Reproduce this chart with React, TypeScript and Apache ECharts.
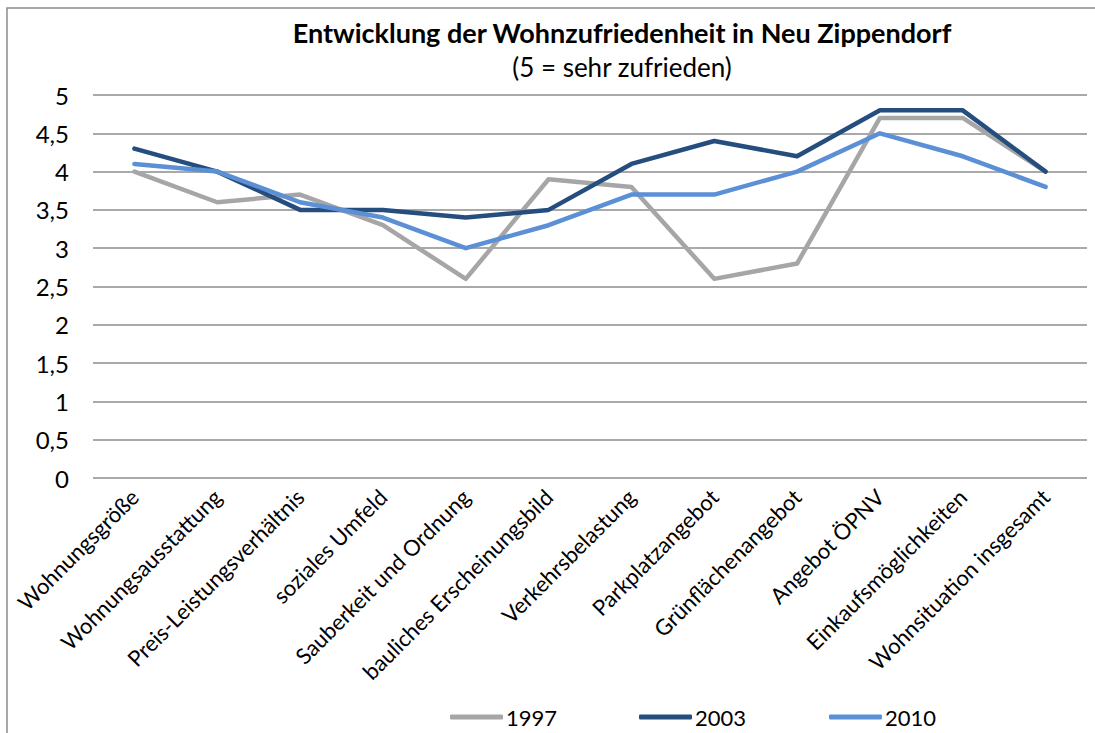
import React, { useEffect, useRef } from "react";
import * as echarts from "echarts";

const categories = [
  "Wohnungsgröße",
  "Wohnungsausstattung",
  "Preis-Leistungsverhältnis",
  "soziales Umfeld",
  "Sauberkeit und Ordnung",
  "bauliches Erscheinungsbild",
  "Verkehrsbelastung",
  "Parkplatzangebot",
  "Grünflächenangebot",
  "Angebot ÖPNV",
  "Einkaufsmöglichkeiten",
  "Wohnsituation insgesamt",
];
const values1997 = [4.0, 3.6, 3.7, 3.3, 2.6, 3.9, 3.8, 2.6, 2.8, 4.7, 4.7, 4.0];
const values2003 = [4.3, 4.0, 3.5, 3.5, 3.4, 3.5, 4.1, 4.4, 4.2, 4.8, 4.8, 4.0];
const values2010 = [4.1, 4.0, 3.6, 3.4, 3.0, 3.3, 3.7, 3.7, 4.0, 4.5, 4.2, 3.8];
const seriesNames = ["1997", "2003", "2010"];
const colors = ["#a6a6a6", "#254e7f", "#5b8fd6"];
const titleText = "Entwicklung der Wohnzufriedenheit in Neu Zippendorf";
const subtitleText = "(5 = sehr zufrieden)";

const FONT = "Lato, 'Open Sans', sans-serif";

export default function App() {
  const ref = useRef<HTMLDivElement>(null);
  useEffect(() => {
    if (!ref.current) return;
    const chart = echarts.init(ref.current, null, { renderer: "svg" });
    const data = [values1997, values2003, values2010];
    const legendLefts = [450, 639, 829];
    chart.setOption({
      animation: false,
      backgroundColor: "#ffffff",
      title: {
        text: titleText,
        subtext: subtitleText,
        left: 617,
        textAlign: "center",
        top: 14,
        itemGap: 8,
        textStyle: { fontFamily: FONT, fontSize: 27, fontWeight: "bold", color: "#000" },
        subtextStyle: { fontFamily: FONT, fontSize: 26, color: "#000" },
      },
      graphic: [
        {
          type: "rect",
          shape: { x: 7, y: 8, width: 1200, height: 800 },
          style: { fill: "none", stroke: "#8c8c8c", lineWidth: 1.5 },
          silent: true,
          z: -10,
        },
      ],
      legend: seriesNames.map((n, i) => ({
        data: [n],
        left: legendLefts[i],
        top: 706,
        padding: 0,
        itemWidth: 53,
        itemHeight: 5,
        itemGap: 5,
        icon: "roundRect",
        textStyle: { fontFamily: FONT, fontSize: 22, color: "#000", padding: [0, 0, 0, -2] },
      })),
      grid: { left: 93, right: 8, top: 95, bottom: 255, containLabel: false },
      xAxis: {
        type: "category",
        data: categories,
        boundaryGap: true,
        axisLine: { show: false },
        axisTick: { show: false },
        axisLabel: {
          rotate: 45,
          interval: 0,
          margin: 15,
          fontFamily: FONT,
          fontSize: 22,
          color: "#000",
        },
      },
      yAxis: {
        type: "value",
        min: 0,
        max: 5,
        interval: 0.5,
        axisLine: { show: false },
        axisTick: { show: false },
        splitLine: { lineStyle: { color: "#8c8c8c", width: 1.5 } },
        axisLabel: {
          margin: 24,
          fontFamily: FONT,
          fontSize: 24,
          color: "#000",
          formatter: (v: number) => String(v).replace(".", ","),
        },
      },
      series: seriesNames.map((n, i) => ({
        name: n,
        type: "line",
        data: data[i],
        symbol: "none",
        color: colors[i],
        lineStyle: { width: 4.5, color: colors[i], cap: "round", join: "round" },
        z: 2 + i,
      })),
    });
    return () => chart.dispose();
  }, []);
  return (
    <div
      ref={ref}
      style={{ position: "absolute", left: 0, top: 0, width: 1095, height: 733 }}
    />
  );
}
